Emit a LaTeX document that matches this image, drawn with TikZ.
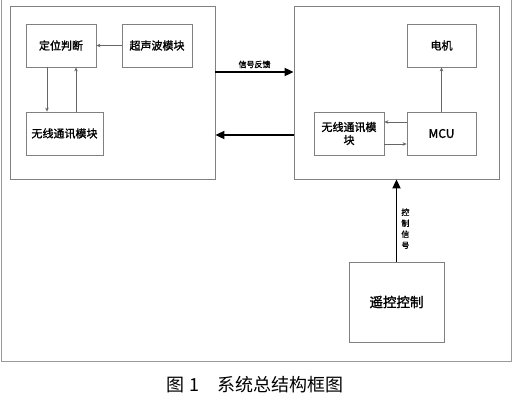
\documentclass[tikz,border=0pt]{standalone}
\usepackage{fontspec}
\setmainfont{Noto Sans CJK SC}[AutoFakeBold=1.5]
\usetikzlibrary{positioning, arrows.meta}

\begin{document}
\begin{tikzpicture}[x=1pt, y=-1pt,
		frm/.style = {draw=black!50, line width=0.8pt, minimum width=205pt, minimum height=173pt},
		blk/.style = {draw=black!50, line width=0.8pt, minimum width=70pt, minimum height=43pt,
			inner sep=1pt, align=center, font=\fontsize{11}{13}\selectfont\bfseries},
		thin/.style = {draw=black!60, line width=0.6pt, -{Stealth[length=4pt,width=3.5pt]}},
		thick/.style = {draw=black, line width=1.8pt, -{Triangle[length=9pt,width=8pt]}},
		lbl/.style = {inner sep=0pt, align=center, font=\fontsize{8}{11}\selectfont\bfseries}
                    ]
		\useasboundingbox (0,0) rectangle (522,405);
		% outer frame, top edge outside the page
		\draw[black!40, line width=1pt] (1,-2) -- (1,361) -- (511,361) -- (511,-2);

		\node(L) [frm] at (112.5,92.5) {};
		\node(R) [frm] at (396.5,92.5) {};

		\node(loc)   [blk] at (61,45.5) {定位判断};
		\node(sonar) [blk] at (157,45.5) {超声波模块};
		\node(wlA)   [blk, minimum width=77pt] at (64.5,133.5) {无线通讯模块};

		\node(motor) [blk, minimum width=69pt] at (441.5,45.5) {电机};
		\node(mcu)   [blk, minimum width=69pt, font=\fontsize{12}{14}\selectfont\bfseries] at (441.5,133.5) {MCU};
		\node(wlB)   [blk, text width=62pt] at (349,133.5) {无线通讯模\\块};

		\node(rc) [blk, minimum width=95pt, minimum height=80pt,
			font=\fontsize{13.5}{15}\selectfont\bfseries] at (396.5,302) {遥控控制};

		\draw[thin] (sonar) -- (loc);
		\draw[thin] ([xshift=-14pt]loc.south) -- ([xshift=-14pt]loc.south |- wlA.north);
		\draw[thin] ([xshift=15pt]loc.south |- wlA.north) -- ([xshift=15pt]loc.south);
		\draw[thin] (mcu) -- (motor);
		\draw[thin] ([yshift=11.5pt]mcu.west) -- ([yshift=11.5pt]mcu.west -| wlB.east);
		\draw[thin] ([yshift=-10.5pt]wlB.east) -- ([yshift=-10.5pt]wlB.east -| mcu.west);

		\draw[thick] ([yshift=20.5pt]L.east) -- ([yshift=20.5pt]R.west)
			node[lbl, midway, above=3pt] {信号反馈};
		\draw[thick] ([yshift=-42.5pt]R.west) -- ([yshift=-42.5pt]L.east);
		\draw[thick] (rc) -- (rc.north |- R.south)
			node[lbl, pos=0.4, right=4pt] {控\\制\\信\\号};

		\node(cap) [font=\fontsize{18}{20}\selectfont] at (255,385) {图~1\quad 系统总结构框图};
	\end{tikzpicture}
\end{document}
